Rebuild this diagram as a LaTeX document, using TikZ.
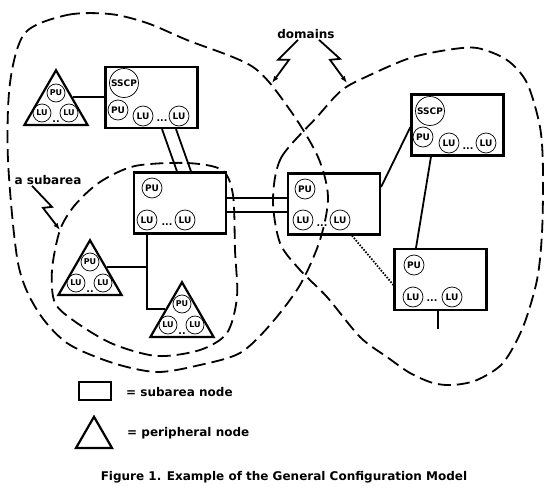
\documentclass[tikz,border=0pt]{standalone}
\usepackage{fontspec}
\setmainfont{DejaVu Sans}
\usetikzlibrary{positioning,shapes.geometric,arrows.meta}

\begin{document}
\begin{tikzpicture}[x=1pt,y=-1pt,font=\bfseries,
  subarea/.style={draw,line width=2.2pt,minimum width=92pt,minimum height=61pt,inner sep=0pt},
  periph/.style={draw,line width=2.2pt,regular polygon,regular polygon sides=3,minimum size=73pt,inner sep=0pt},
  unit/.style={draw,circle,line width=0.7pt,minimum size=20pt,inner sep=0pt,font=\bfseries\fontsize{9}{9}\selectfont},
  sunit/.style={unit,minimum size=18pt,font=\bfseries\fontsize{8}{8}\selectfont},
  sscp/.style={unit,minimum size=29pt},
  ellip/.style={inner sep=0pt,font=\bfseries\fontsize{9.5}{9.5}\selectfont},
  tag/.style={inner sep=1pt,font=\bfseries\fontsize{12}{14}\selectfont},
  dashline/.style={line width=1.8pt,dash pattern=on 13pt off 6pt},
  zap/.style={line width=1.8pt,-{Latex[length=7pt,width=5pt]}},
  link/.style={line width=1.8pt}
]
\useasboundingbox (0,0) rectangle (550,490);

% the two domains and the subarea
\draw[dashline] plot[smooth cycle] coordinates {(25,33) (67,15) (110,14) (147,23) (187,40) (253,67)
  (290,110) (318,157) (328,197) (320,240) (300,285) (270,325) (240,353) (200,365) (157,372)
  (113,363) (67,343) (37,310) (18,263) (8,160) (10,83)};
\draw[dashline] plot[smooth cycle] coordinates {(273,200) (281,158) (317,117) (342,90) (370,75)
  (410,58) (447,50) (477,48) (507,60) (527,83) (540,127) (543,170) (542,233) (537,280) (523,327)
  (503,363) (477,380) (453,385) (433,383) (410,373) (387,357) (360,337) (327,297) (300,270) (280,243)};
\draw[dashline] plot[smooth cycle] coordinates {(135,166) (187,163) (222,170) (233,195) (235,250)
  (237,297) (227,333) (200,350) (157,356) (113,344) (77,323) (55,303) (52,270) (60,230) (75,205) (100,182)};

% the subarea nodes
\node[subarea] (b1) at (151.5,97.5) {};
\node[sscp] (b1sscp) at (124,83) {SSCP};
\node[unit] (b1pu) at (118,110) {PU};
\node[unit] (b1lu1) at (143,116) {LU};
\node[unit] (b1lu2) at (179,116) {LU};
\node[ellip] (b1dots) at (162,121) {...};

\node[subarea] (b2) at (180,203) {};
\node[unit] (b2pu) at (152,188) {PU};
\node[unit] (b2lu1) at (147,220) {LU};
\node[unit] (b2lu2) at (185,220) {LU};
\node[ellip] (b2dots) at (167,225) {...};

\node[subarea] (b3) at (334,204) {};
\node[unit] (b3pu) at (305,189) {PU};
\node[unit] (b3lu1) at (303,220) {LU};
\node[unit] (b3lu2) at (340,220) {LU};
\node[ellip] (b3dots) at (322,226) {...};

\node[subarea] (b4) at (457.5,125) {};
\node[sscp] (b4sscp) at (430,111) {SSCP};
\node[unit] (b4pu) at (423,137) {PU};
\node[unit] (b4lu1) at (449,143) {LU};
\node[unit] (b4lu2) at (486,143) {LU};
\node[ellip] (b4dots) at (468,149) {...};

\node[subarea] (b5) at (440.5,279.5) {};
\node[unit] (b5pu) at (414,265) {PU};
\node[unit] (b5lu1) at (413,297) {LU};
\node[unit] (b5lu2) at (452,297) {LU};
\node[ellip] (b5dots) at (432,301) {...};

% the peripheral nodes
\node[periph] (t1) at (56,106.75) {};
\node[sunit] (t1pu) at (56,93) {PU};
\node[sunit] (t1lu1) at (42,113) {LU};
\node[sunit] (t1lu2) at (69,113) {LU};
\node[ellip] (t1dots) at (56,121.5) {..};

\node[periph] (t2) at (90,276.75) {};
\node[sunit] (t2pu) at (90,262) {PU};
\node[sunit] (t2lu1) at (76,283) {LU};
\node[sunit] (t2lu2) at (103,283) {LU};
\node[ellip] (t2dots) at (90,291.5) {..};

\node[periph] (t3) at (182,318.75) {};
\node[sunit] (t3pu) at (182,304) {PU};
\node[sunit] (t3lu1) at (168,325) {LU};
\node[sunit] (t3lu2) at (195,325) {LU};
\node[ellip] (t3dots) at (182,333.5) {..};

% the links
\draw[link] (t1.side 3) -- (t1.side 3 -| b1.west);
\draw[link] ([xshift=10.5pt]b1.south) -- ([xshift=-3pt]b2.north);
\draw[link] ([xshift=24.5pt]b1.south) -- ([xshift=11pt]b2.north);
\draw[link] ([yshift=5pt]b2.east) -- ([yshift=6pt]b3.west);
\draw[link] ([yshift=-9pt]b2.east) -- ([yshift=-8pt]b3.west);
\coordinate (bus) at ([xshift=-33pt]b2.south);
\draw[link] (bus) |- (t3.side 1);
\draw[link] (t2.side 3) -- (t2.side 3 -| bus);
\draw[link] ([yshift=17pt]b3.east) -- ([yshift=-2pt]b4.west);
\draw[link] ([xshift=-26.5pt]b4.south) -- ([xshift=-24.5pt]b5.north);
\draw[link,dash pattern=on 1.5pt off 1.5pt] ([xshift=18pt]b3.south) -- ([yshift=-5.5pt]b5.west);
\coordinate (stub) at (438,329);
\draw[link] (b5.south -| stub) -- (stub);

% the labels
\node[tag] (dom) at (306,34) {domains};
\coordinate (domL) at (272,83);
\coordinate (domR) at (347,83);
\draw[zap] ([xshift=-8pt]dom.south) -- ++(-20,20) -- ++(11,0) -- (domL);
\draw[zap] ([xshift=13pt]dom.south) -- ++(21,19) -- ++(-10,1) -- (domR);
\node[tag] (sub) at (48,180) {a subarea};
\coordinate (subA) at (60,230);
\draw[zap] ([xshift=-16pt]sub.south) -- ++(20,21) -- ++(-9,1) -- (subA);

% the legend
\node[draw,line width=2.2pt,minimum width=32pt,minimum height=18pt,inner sep=0pt] (lgbox) at (95,391) {};
\node[tag,anchor=west] (lgboxtext) at (125,392) {= subarea node};
\node[draw,line width=2.2pt,regular polygon,regular polygon sides=3,minimum size=41.6pt,inner sep=0pt] (lgtri) at (94,437.6) {};
\node[tag,anchor=west] (lgtritext) at (126,433) {= peripheral node};

\node[tag] (caption) at (284,477) {Figure 1. Example of the General Configuration Model};
\end{tikzpicture}
\end{document}
